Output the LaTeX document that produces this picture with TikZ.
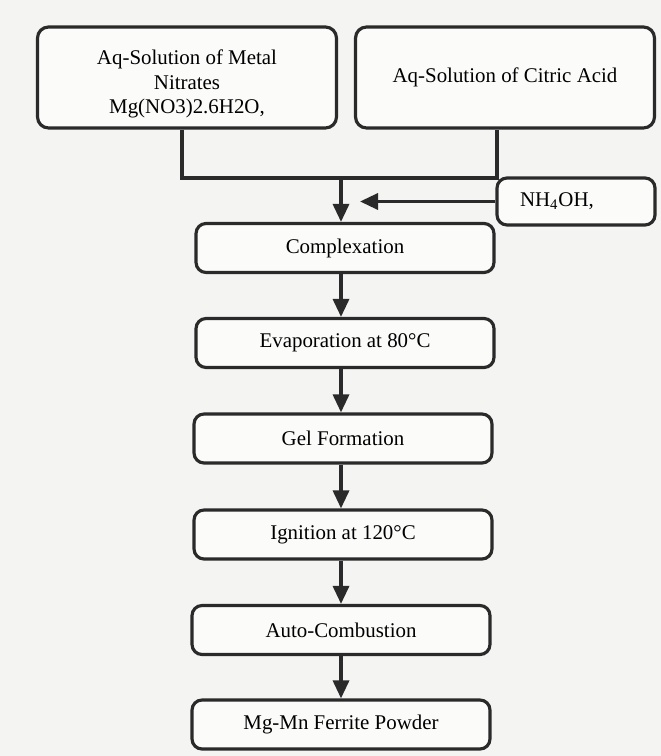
\documentclass[tikz,border=0pt]{standalone}
\usepackage{fontspec}
\setmainfont{Liberation Serif}
\usepackage{tikz}
\usetikzlibrary{arrows.meta, positioning}
\usepackage{xcolor}
\definecolor{ink}{HTML}{2A2A2A}
\definecolor{paper}{HTML}{F4F4F3}

\begin{document}
\begin{tikzpicture}[
        x=0.02cm, y=-0.02cm,
        font=\fontsize{11.9}{14}\selectfont,
        source/.style={draw=ink, line width=1.8pt, rounded corners=0.22cm, fill=white!60!paper, minimum width=5.98cm, minimum height=2.02cm, align=center, text=black},
        stage/.style={draw=ink, line width=1.8pt, rounded corners=0.2cm, fill=white!60!paper, minimum width=5.96cm, minimum height=0.98cm, text=black},
        reagent/.style={draw=ink, line width=1.8pt, rounded corners=0.2cm, fill=white!60!paper, minimum height=0.94cm, text width=2.24cm, inner xsep=0.46cm, align=left, text=black},
        flow/.style={draw=ink, line width=1.9pt, -{Triangle[length=0.36cm, width=0.32cm]}}
    ]

        % Page and margins
        \fill[paper] (0,0) rectangle (661,756);
        \useasboundingbox (0,0) rectangle (661,756);

        % Starting solutions
        \node[source] (metal) at (187,77.5) {\rule{0pt}{0.56cm}Aq-Solution of Metal\\Nitrates\\Mg(NO3)2.6H2O,};
        \node[source] (citric) at (505,77.5) {Aq-Solution of Citric Acid};
        \coordinate (join) at (341,178);

        % Added base
        \node[reagent] (base) at (576,201.5) {NH\textsubscript{4}OH,};

        % Process steps
        \node[stage] (complex) at (345,248) {Complexation};
        \node[stage] (evap) at (345,343) {Evaporation at 80\textdegree C};
        \node[stage] (gel) at (343,438.5) {Gel Formation};
        \node[stage] (ignite) at (343,534.5) {Ignition at 120\textdegree C};
        \node[stage] (combust) at (341,630) {Auto-Combustion};
        \node[stage] (powder) at (341,724.5) {Mg-Mn Ferrite Powder};

        % Connectors
        \draw[ink, line width=1.9pt] ([xshift=-0.1cm]metal.south) |- (join) -| ([xshift=-0.16cm]citric.south);
        \draw[flow] (join) -- (join |- complex.north);
        \draw[flow, shorten >=0.38cm] (base.west) -- (join |- base.west);
        \draw[flow] (complex.south -| join) -- (evap.north -| join);
        \draw[flow] (evap.south -| join) -- (gel.north -| join);
        \draw[flow] (gel.south -| join) -- (ignite.north -| join);
        \draw[flow] (ignite.south -| join) -- (combust.north -| join);
        \draw[flow] (combust.south -| join) -- (powder.north -| join);

    \end{tikzpicture}
\end{document}
